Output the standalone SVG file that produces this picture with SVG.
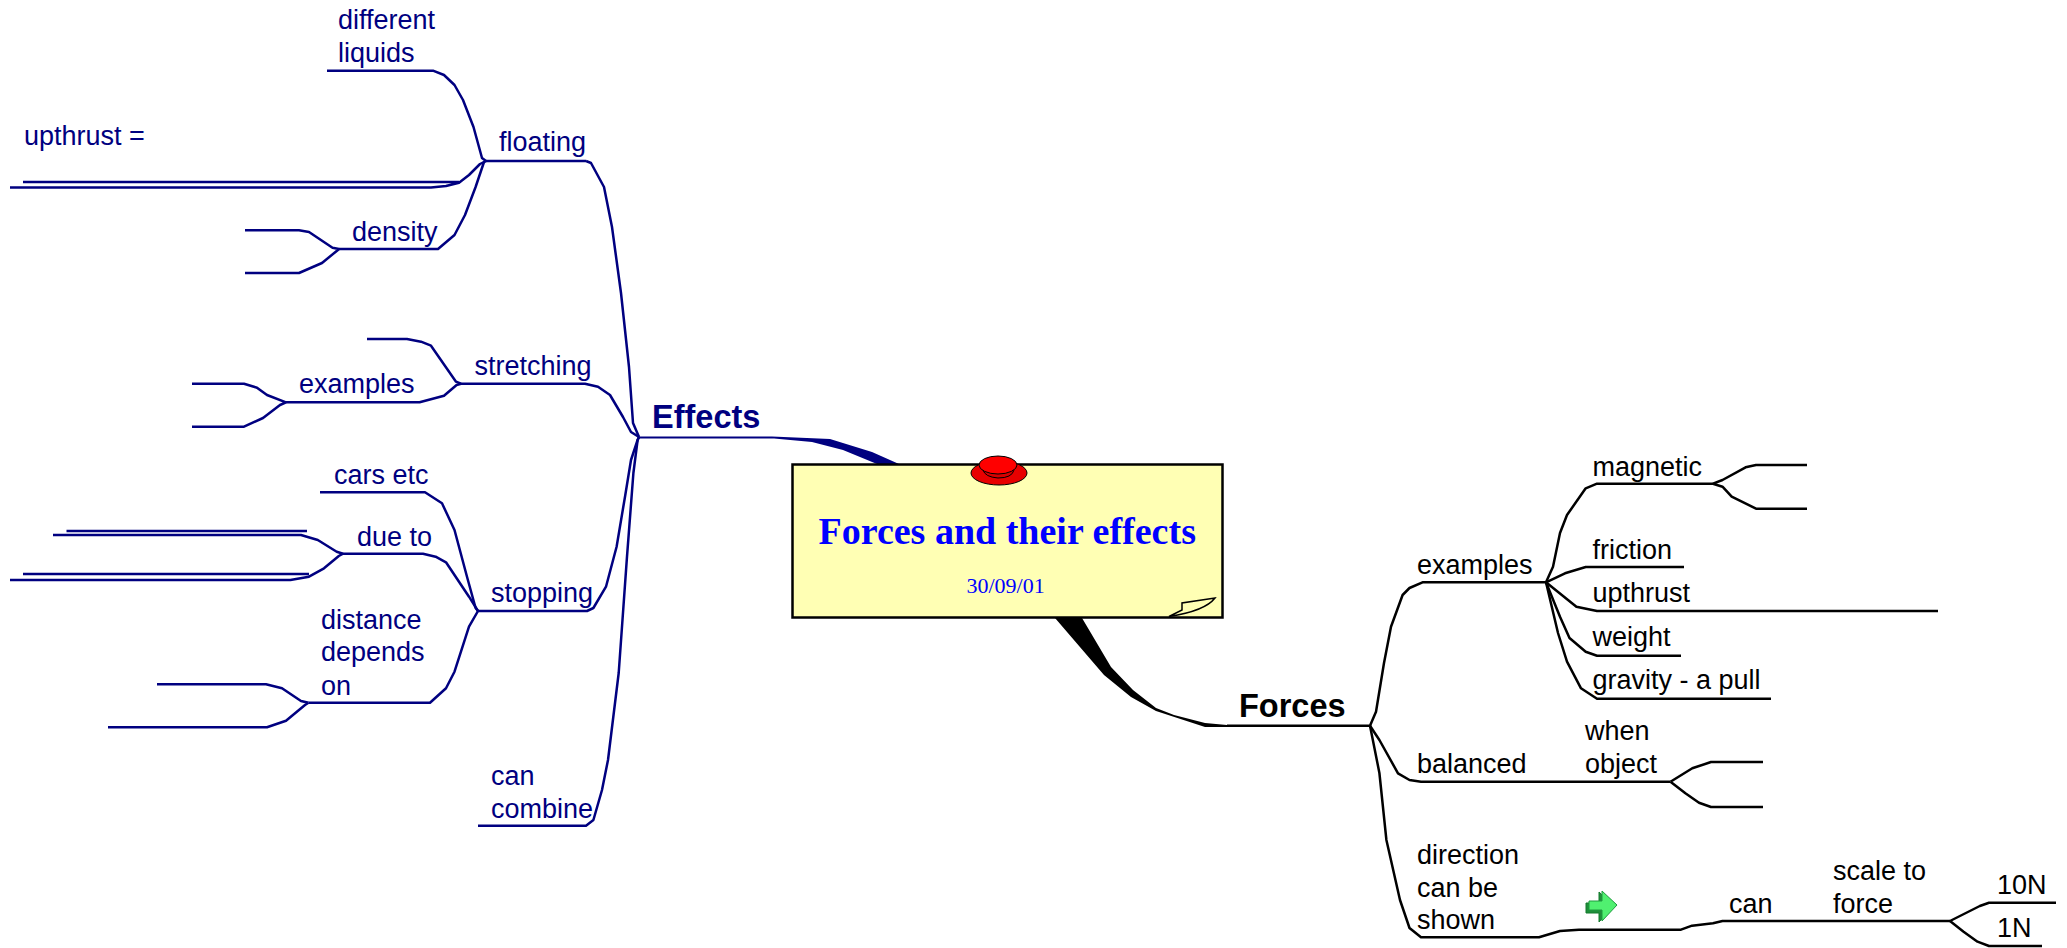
<svg xmlns="http://www.w3.org/2000/svg" width="2067" height="948" viewBox="0 0 2067 948">
<style>
text{font-family:"Liberation Sans",Arial,sans-serif;font-size:27px}
.l text{fill:#000080}
.r text{fill:#000}
.c{fill:none;stroke-width:2.5;stroke-linejoin:round;stroke-linecap:butt}
.cl path{stroke:#000080}
.cr path{stroke:#000}
.main{font-weight:bold;font-size:32.5px}
.r .main{fill:#000}
.l .main{fill:#000080}
.ser{font-family:"Liberation Serif","Times New Roman",serif;fill:#00f}
</style>
<rect width="2067" height="948" fill="#fff"/>
<g id="connectors">
<path d="M639 436.5H772L830 439 872 452 899 464H877L843 450 812 442 774 438.5H639Z" fill="#000080"/>
<path d="M1055 618H1082L1111 667 1133 690 1156 708 1174 715 1205 723 1227 725V727H1205L1156 711 1131 697 1104 675Z" fill="#000"/>
<g class="c cl">
<path d="M586 161H486M586 161L591 163 604 187 612 227 621 293 629 367 633 423 639 437"/>
<path d="M327 70.7H433L444 75 454.5 85 463 100 473.5 127 482 158 486 161"/>
<path d="M23 182H459M10 187.5H431L446 186 459 182.7 469 175 480 164 486 161"/>
<path d="M339 249H438L454.5 235 465 215 475.6 187 484 162 486 161"/>
<path d="M339 249L332.5 247.7 309 232 299 230.3H245M339 249L337 250.7 322 263 299 273H245"/>
<path d="M461 383.7H585L598 386.7 610 395 623 417 631 432 639 437"/>
<path d="M461 383.7L456 381.7 431 345.7 421 341.7 407 339H367"/>
<path d="M461 383.7L456.6 385 444 395.7 419.6 402.3H286"/>
<path d="M286 402.3L267 395 257 387.7 244 383.7H192M286 402.3L280 405 263 418 244 426.7H192"/>
<path d="M478 611H587L593.4 608 606 586.7 616.6 546.7 625 496.7 631 460 637.6 440 639 437"/>
<path d="M478 825.7H586L593.4 820 602 790 608 760 618.7 673 627 556.7 633.4 473 637.6 440 639 437"/>
<path d="M320 492.3H425L442 503.3 454.5 530 467 576.7 475.6 608 478 611"/>
<path d="M343 553.7H423L435.6 556.7 446 562.3 469 596.7 478 611"/>
<path d="M308.5 702.7H430L446 688.3 454.5 671.7 469 626.7 478 611"/>
<path d="M343 553.7L336.7 551.7 317.8 540 301 535H53M66.5 531H307"/>
<path d="M343 553.7L338.8 556 324 568.3 309 576.7 290.4 580H10M23 574H309"/>
<path d="M308.5 702.7L301 701 282 688.3 266 684.3H157M308.5 702.7L305 705 286 720.7 267 727.3H108"/>
</g>
<g class="c cr">
<path d="M1227 725.7H1370L1376 711.7 1384 663 1391 626.7 1402.6 595 1409.5 588 1422.5 582.3H1546"/>
<path d="M1546 582.3L1553 566.7 1560 533 1567 515 1585.7 488.3 1597 483.7H1713"/>
<path d="M1546 582.3L1565 573.3 1585.7 567H1684"/>
<path d="M1546 582.3L1555.6 590 1576.4 606.7 1597 611H1938"/>
<path d="M1546 582.3L1560 616.7 1569.5 638 1585.7 651.7 1597 655.7H1681"/>
<path d="M1546 582.3L1558 633 1567 661.7 1581 688.3 1597 698.7H1771"/>
<path d="M1713 483.7L1722.5 480 1745.6 467.3 1756 465H1807M1713 483.7L1722.5 486.7 1731.7 496.7 1756 508.7H1807"/>
<path d="M1370 725.7L1379.4 740 1398 773.3 1409.5 780 1421 781.7H1670.5"/>
<path d="M1670.5 781.7L1692.3 768.3 1711 762H1763M1670.5 781.7L1685.4 793.3 1699 802.7 1711 807H1763"/>
<path d="M1370 725.7L1379.4 773 1386.4 840 1400 900 1409.5 928 1421 937.3H1539L1560 931 1579 929.7H1681L1692 925.7 1713 923.3 1722.5 921H1950"/>
<path d="M1950 921L1979.8 906 1989 902.7H2056M1950 921L1963.6 931.7 1977.5 941.7 1989 946H2042"/>
</g>
</g>
<g id="central">
<rect x="792.5" y="464.5" width="430" height="153" fill="#ffffb4" stroke="#000" stroke-width="2.5"/>
<path d="M1169 616.5L1182 610V603L1215 598Q1205 611 1169 616.5Z" fill="#ffffb4" stroke="#000" stroke-width="1.5"/>
<g id="pin" stroke="#000" stroke-width="1">
<ellipse cx="999" cy="473" rx="28" ry="12" fill="#e80000"/>
<path d="M983 470Q985 477 998 478 1012 478 1014 470" fill="#d80000"/>
<ellipse cx="998" cy="465" rx="19" ry="9" fill="#ff0000"/>
</g>
<text class="ser" x="818.5" y="544" font-weight="bold" style="font-size:38px">Forces and their effects</text>
<text class="ser" x="966.5" y="593" style="font-size:22px">30/09/01</text>
</g>
<g class="l">
<g id="effects"><text class="main" x="652" y="428">Effects</text></g>
<g id="floating"><text x="499" y="151">floating</text></g>
<g id="different-liquids"><text x="338" y="29">different</text><text x="338" y="62">liquids</text></g>
<g id="upthrust-eq"><text x="24" y="145">upthrust =</text></g>
<g id="density"><text x="352" y="241">density</text></g>
<g id="stretching"><text x="474.5" y="375">stretching</text></g>
<g id="stretch-examples"><text x="299" y="393">examples</text></g>
<g id="stopping"><text x="491" y="602">stopping</text></g>
<g id="cars-etc"><text x="334" y="484">cars etc</text></g>
<g id="due-to"><text x="357" y="546">due to</text></g>
<g id="distance"><text x="321" y="629">distance</text><text x="321" y="661">depends</text><text x="321" y="695">on</text></g>
<g id="can-combine"><text x="491" y="785">can</text><text x="491" y="818">combine</text></g>
</g>
<g class="r">
<g id="forces"><text class="main" x="1239" y="717">Forces</text></g>
<g id="examples"><text x="1417" y="574">examples</text></g>
<g id="magnetic"><text x="1592.5" y="476">magnetic</text></g>
<g id="friction"><text x="1592.5" y="559">friction</text></g>
<g id="upthrust"><text x="1592.5" y="602">upthrust</text></g>
<g id="weight"><text x="1592.5" y="646">weight</text></g>
<g id="gravity"><text x="1592.5" y="689">gravity - a pull</text></g>
<g id="balanced"><text x="1417" y="773">balanced</text></g>
<g id="when-object"><text x="1585" y="740">when</text><text x="1585" y="773">object</text></g>
<g id="direction"><text x="1417" y="864">direction</text><text x="1417" y="897">can be</text><text x="1417" y="929">shown</text></g>
<g id="can"><text x="1729" y="913">can</text></g>
<g id="scale"><text x="1833" y="880">scale to</text><text x="1833" y="913">force</text></g>
<g id="n10"><text x="1997" y="894">10N</text></g>
<g id="n1"><text x="1997" y="937">1N</text></g>
<g id="arrow-icon">
<path d="M1586 903H1599V892L1614 906 1599 922V913H1586Z" fill="#1f8f3a" stroke="#147a2c"/>
<path d="M1589 901H1602V891L1617 905 1602 921V910H1589Z" fill="#50f070" stroke="#1f9a3f"/>
</g>
</g>
</svg>
